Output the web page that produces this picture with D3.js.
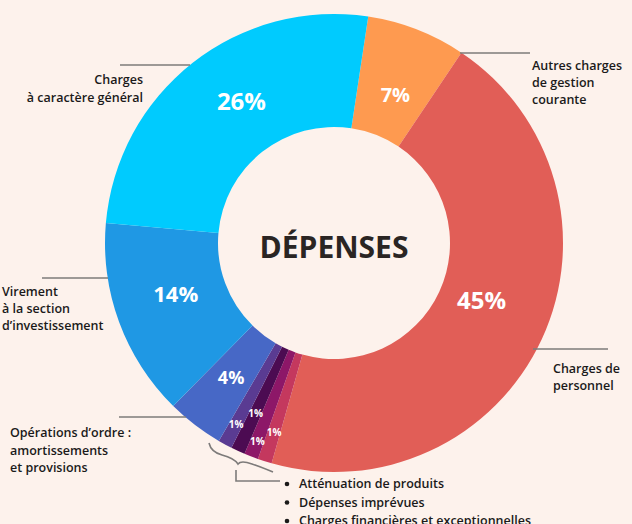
<!DOCTYPE html>
<html><head><meta charset="utf-8">
<script src="https://cdn.jsdelivr.net/npm/d3@7/dist/d3.min.js"></script>
<style>
html,body{margin:0;padding:0;background:#fdf2ec;}
svg{display:block;}
text{font-family:"Open Sans",sans-serif;}
</style></head>
<body>
<svg id="c" width="632" height="524"></svg>
<script>
// ---- data ----
const categories = ["Autres charges de gestion courante","Charges de personnel","Atténuation de produits","Dépenses imprévues","Charges financières","Charges exceptionnelles","Opérations d'ordre","Virement à la section d'investissement","Charges à caractère général"];
const values = [7,45,1,1,1,1,4,14,26];
const valueLabels = ["7%","45%","1%","1%","1%","1%","4%","14%","26%"];
const colors = ["#fe9a50","#e15e57","#c4385e","#8d1768","#4c0b52","#5a3b92","#4768c6","#1f98e4","#00cbfe"];
const centerTitle = "DÉPENSES";
const bulletItems = ["Atténuation de produits","Dépenses imprévues","Charges financières et exceptionnelles"];

// ---- layout ----
const W=632,H=524, cx=334, cy=243, rOut=229, rIn=116;
const startDeg = 8.6;
const labelRadius = [161,158,198,212,187,206,169,166,170];
const labelAngleShift = [1.2,-3.8,0,0,0,0,0.1,2.6,5.2];
const labelSize = [20,24,10,10,10,10,18,22,24];

const svg=d3.select("#c");
svg.append("rect").attr("width",W).attr("height",H).attr("fill","#fdf2ec");
const g=svg.append("g").attr("transform",`translate(${cx},${cy})`);

const pie=d3.pie().sort(null).value(d=>d)
  .startAngle(startDeg*Math.PI/180).endAngle(startDeg*Math.PI/180+2*Math.PI);
const arcs=pie(values);
const arc=d3.arc().innerRadius(rIn).outerRadius(rOut);

g.selectAll("path.s").data(arcs).join("path").attr("class","s")
  .attr("d",arc).attr("fill",(d,i)=>colors[i]);

g.selectAll("text.v").data(arcs).join("text").attr("class","v")
  .attr("transform",(d,i)=>{const a=(d.startAngle+d.endAngle)/2+labelAngleShift[i]*Math.PI/180;const r=labelRadius[i];
     return `translate(${r*Math.sin(a)},${-r*Math.cos(a)})`;})
  .attr("text-anchor","middle").attr("dominant-baseline","central")
  .attr("fill","#fff").attr("font-weight",700)
  .attr("font-size",(d,i)=>labelSize[i]+"px")
  .text((d,i)=>valueLabels[i]);

g.append("text").attr("x",0).attr("y",15).attr("text-anchor","middle")
  .attr("font-size","30px").attr("font-weight",700).attr("fill","#2a2523")
  .text(centerTitle);

// ---- annotations ----
const lineColor="#7d7b7a";
const leaders=[
  {x1:120,x2:190,y:65, anchor:"end", x:143, ys:[84,102], lines:["Charges","à caractère général"]},
  {x1:460,x2:530,y:53, anchor:"start", x:532, ys:[70,87,104], lines:["Autres charges","de gestion","courante"]},
  {x1:533,x2:608,y:349, anchor:"start", x:553, ys:[373,390], lines:["Charges de","personnel"]},
  {x1:42,x2:108,y:278, anchor:"start", x:2, ys:[296,313,330], lines:["Virement","à la section","d’investissement"]},
  {x1:119,x2:186,y:417, anchor:"start", x:10, ys:[437,455,472], lines:["Opérations d’ordre :","amortissements","et provisions"]}
];
leaders.forEach(L=>{
  svg.append("line").attr("x1",L.x1).attr("x2",L.x2).attr("y1",L.y).attr("y2",L.y)
    .attr("stroke",lineColor).attr("stroke-width",1.6);
  const t=svg.append("text").attr("text-anchor",L.anchor).attr("font-size","12.5px")
    .attr("font-weight",600).attr("fill","#1b1a1a");
  L.lines.forEach((s,i)=>t.append("tspan").attr("x",L.x).attr("y",L.ys[i]).text(s));
});

// brace
svg.append("path")
  .attr("d","M209,443 Q211,452 222,455 Q234,458 238,464 Q241,460 252,464 Q266,469 273,472")
  .attr("fill","none").attr("stroke",lineColor).attr("stroke-width",1.6);
svg.append("path").attr("d","M236,470 V481 H280")
  .attr("fill","none").attr("stroke",lineColor).attr("stroke-width",1.6);

bulletItems.forEach((s,i)=>{
  const y=488+i*18.5;
  svg.append("circle").attr("cx",287).attr("cy",y-4).attr("r",2.3).attr("fill","#1b1a1a");
  svg.append("text").attr("x",299).attr("y",y).attr("font-size","12.5px")
    .attr("font-weight",600).attr("fill","#1b1a1a").text(s);
});
</script>
</body></html>
